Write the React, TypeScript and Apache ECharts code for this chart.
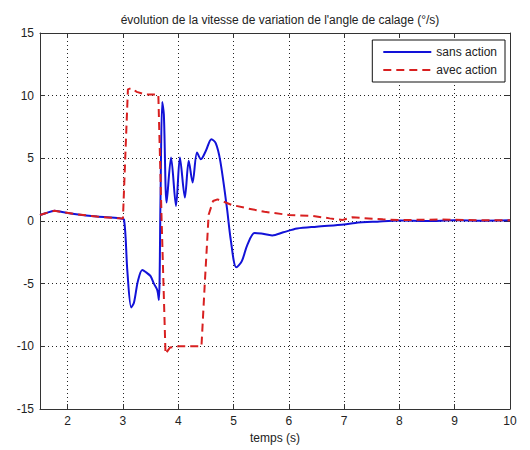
import React, { useEffect, useRef } from "react";
import * as echarts from "echarts";

const titleText = "évolution de la vitesse de variation de l'angle de calage (°/s)";
const xName = "temps (s)";
const seriesNames = ["sans action", "avec action"];

const blueT = [1.5, 1.6, 1.76, 1.9, 2.12, 2.53, 2.94, 3.02, 3.08, 3.15, 3.2, 3.27, 3.35, 3.42, 3.5, 3.56, 3.62, 3.65, 3.68, 3.71, 3.74, 3.79, 3.87, 3.96, 4.03, 4.12, 4.19, 4.26, 4.34, 4.41, 4.5, 4.6, 4.68, 4.76, 4.88, 4.95, 5.05, 5.15, 5.25, 5.38, 5.5, 5.7, 5.9, 6.15, 6.5, 7.0, 7.2, 7.6, 8.0, 8.5, 9.0, 9.5, 10];
const blueV = [0.48, 0.62, 0.82, 0.72, 0.56, 0.35, 0.21, 0.1, -4.0, -6.9, -6.5, -4.8, -3.9, -4.1, -4.4, -5.0, -5.5, -6.3, 2.0, 9.5, 8.5, 1.47, 5.07, 1.2, 5.07, 1.87, 4.8, 3.07, 5.47, 4.93, 5.6, 6.53, 6.2, 4.8, 1.07, -1.5, -3.7, -3.2, -1.9, -0.95, -1.0, -1.15, -0.9, -0.6, -0.45, -0.27, -0.15, -0.05, 0.03, 0.0, 0.05, 0.02, 0.05];

const redT = [1.5, 1.6, 1.76, 1.9, 2.12, 2.53, 2.94, 3.0, 3.05, 3.09, 3.15, 3.25, 3.4, 3.55, 3.64, 3.7, 3.77, 3.85, 4.0, 4.2, 4.42, 4.48, 4.55, 4.63, 4.71, 4.97, 5.26, 5.56, 6.0, 6.44, 6.74, 6.97, 7.15, 7.3, 7.7, 8.0, 8.5, 8.72, 9.0, 9.5, 9.8, 10];
const redV = [0.48, 0.62, 0.82, 0.72, 0.56, 0.35, 0.21, 0.2, 6.0, 10.5, 10.6, 10.3, 10.1, 10.1, 10.1, 0.0, -10.6, -10.1, -10.0, -10.0, -10.0, -5.0, 0.5, 1.6, 1.73, 1.28, 1.0, 0.74, 0.48, 0.4, 0.21, 0.08, 0.3, 0.25, 0.13, 0.08, 0.1, 0.13, 0.1, 0.05, 0.05, 0.05];

const xMin = 1.5;
const xMax = 10;
const yMin = -15;
const yMax = 15;

const FONT = "'Liberation Sans', Arial, sans-serif";

export default function App() {
  const ref = useRef<HTMLDivElement>(null);
  useEffect(() => {
    if (!ref.current) return;
    const chart = echarts.init(ref.current, null, { renderer: "svg" });
    const blueData = blueT.map((t, i) => [t, blueV[i]]);
    const redData = redT.map((t, i) => [t, redV[i]]);
    const axisLine = { show: true, onZero: false, lineStyle: { color: "#333", width: 1 } };
    const tick = { show: true, inside: true, length: 5, lineStyle: { color: "#333" } };
    const grid = { show: true, lineStyle: { color: "#222", type: [1, 3] as any, width: 1 } };
    chart.setOption({
      animation: false,
      backgroundColor: "#fff",
      textStyle: { fontFamily: FONT },
      title: {
        text: titleText,
        left: 275,
        textAlign: "center",
        top: 9,
        textStyle: { fontSize: 12, fontWeight: "normal", color: "#222", fontFamily: FONT },
      },
      grid: { left: 40, right: 20, top: 33, bottom: 41, containLabel: false },
      legend: {
        orient: "vertical",
        right: 25,
        top: 40,
        backgroundColor: "#fff",
        borderColor: "#111",
        borderWidth: 1,
        borderRadius: 0,
        padding: [6, 8, 6, 10],
        itemWidth: 48,
        itemHeight: 10,
        itemGap: 6,
        itemStyle: { opacity: 0 },
        textStyle: { fontSize: 12, color: "#222", fontFamily: FONT },
        data: seriesNames,
      },
      xAxis: [
        {
          type: "value",
          min: xMin,
          max: xMax,
          splitNumber: 8,
          name: xName,
          nameLocation: "middle",
          nameGap: 22,
          nameTextStyle: { fontSize: 12, color: "#222", fontFamily: FONT },
          axisLine,
          axisTick: tick,
          axisLabel: {
            show: true,
            margin: 6,
            fontSize: 12,
            color: "#222",
            fontFamily: FONT,
            formatter: (v: number) => (Number.isInteger(v) ? String(v) : ""),
          },
          splitLine: grid,
        },
        {
          type: "value",
          position: "top",
          min: xMin,
          max: xMax,
          splitNumber: 8,
          axisLine,
          axisTick: tick,
          axisLabel: { show: false },
          splitLine: { show: false },
        },
      ],
      yAxis: [
        {
          type: "value",
          min: yMin,
          max: yMax,
          interval: 5,
          axisLine,
          axisTick: tick,
          axisLabel: { show: true, margin: 6, fontSize: 12, color: "#222", fontFamily: FONT },
          splitLine: grid,
        },
        {
          type: "value",
          position: "right",
          min: yMin,
          max: yMax,
          interval: 5,
          axisLine,
          axisTick: tick,
          axisLabel: { show: false },
          splitLine: { show: false },
        },
      ],
      series: [
        {
          name: seriesNames[0],
          type: "line",
          data: blueData,
          symbol: "none",
          smooth: 0.3,
          lineStyle: { color: "#1212d8", width: 2 },
          itemStyle: { color: "#1212d8" },
          z: 3,
        },
        {
          name: seriesNames[1],
          type: "line",
          data: redData,
          symbol: "none",
          lineStyle: { color: "#d82020", width: 2, type: [8, 5] as any },
          itemStyle: { color: "#d82020" },
          z: 4,
        },
      ],
    });
    return () => chart.dispose();
  }, []);
  return <div ref={ref} style={{ position: "fixed", left: 0, top: 0, width: 530, height: 450 }} />;
}
